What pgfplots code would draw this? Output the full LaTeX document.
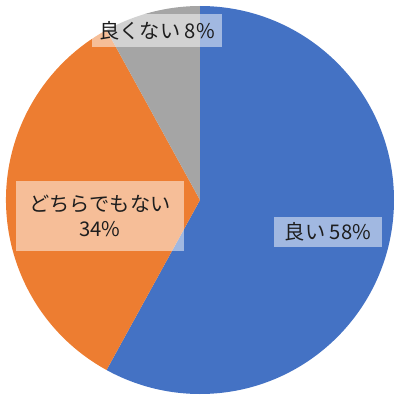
\documentclass[border=0pt]{standalone}
\usepackage{pgfplots}
\pgfplotsset{compat=1.18}
\usepackage{pgfplotstable}
\usepackage{fontspec}
\setmainfont{Noto Sans CJK JP}

\definecolor{pieblue}{HTML}{4472C4}
\definecolor{pieorange}{HTML}{ED7D31}
\definecolor{piegray}{HTML}{A5A5A5}
\definecolor{labeltext}{HTML}{1E1E1E}

% share of answers in percent, clockwise from the top
\pgfplotstableread{
slice pct
0 58
1 34
2 8
}\piedata

\begin{document}
\begin{tikzpicture}
\begin{axis}[
    scale only axis,
    x=1bp, y=1bp,
    xmin=-200, xmax=200,
    ymin=-200, ymax=200,
    hide axis,
    clip=false,
    anchor=south west, at={(0,0)},
]
\pgfplotsextra{
  \gdef\angstart{90}
  \foreach \i/\col in {0/pieblue,1/pieorange,2/piegray}{
    \pgfplotstablegetelem{\i}{pct}\of\piedata
    \pgfmathsetmacro\angend{\angstart-3.6*\pgfplotsretval}
    \fill[\col] (axis cs:0,0) -- ++(\angstart:194bp)
      arc[start angle=\angstart, end angle=\angend, radius=194bp] -- cycle;
    \xdef\angstart{\angend}
  }
}
\tikzset{lbl/.style={fill=white, fill opacity=0.5, text opacity=1,
    text=labeltext, inner sep=0pt, align=center,
    font=\fontsize{20.3}{25}\selectfont}}
\node[lbl, minimum width=130bp, minimum height=33bp] at (axis cs:-43,169) {良くない 8\%};
\node[lbl, minimum width=168bp, minimum height=69bp] at (axis cs:-100,-16) {どちらでもない\\34\%};
\node[lbl, minimum width=107bp, minimum height=30bp] at (axis cs:128,-32) {良い 58\%};
\end{axis}
\pgfresetboundingbox
\path (0,0) rectangle (400bp,400bp);
\end{tikzpicture}
\end{document}
